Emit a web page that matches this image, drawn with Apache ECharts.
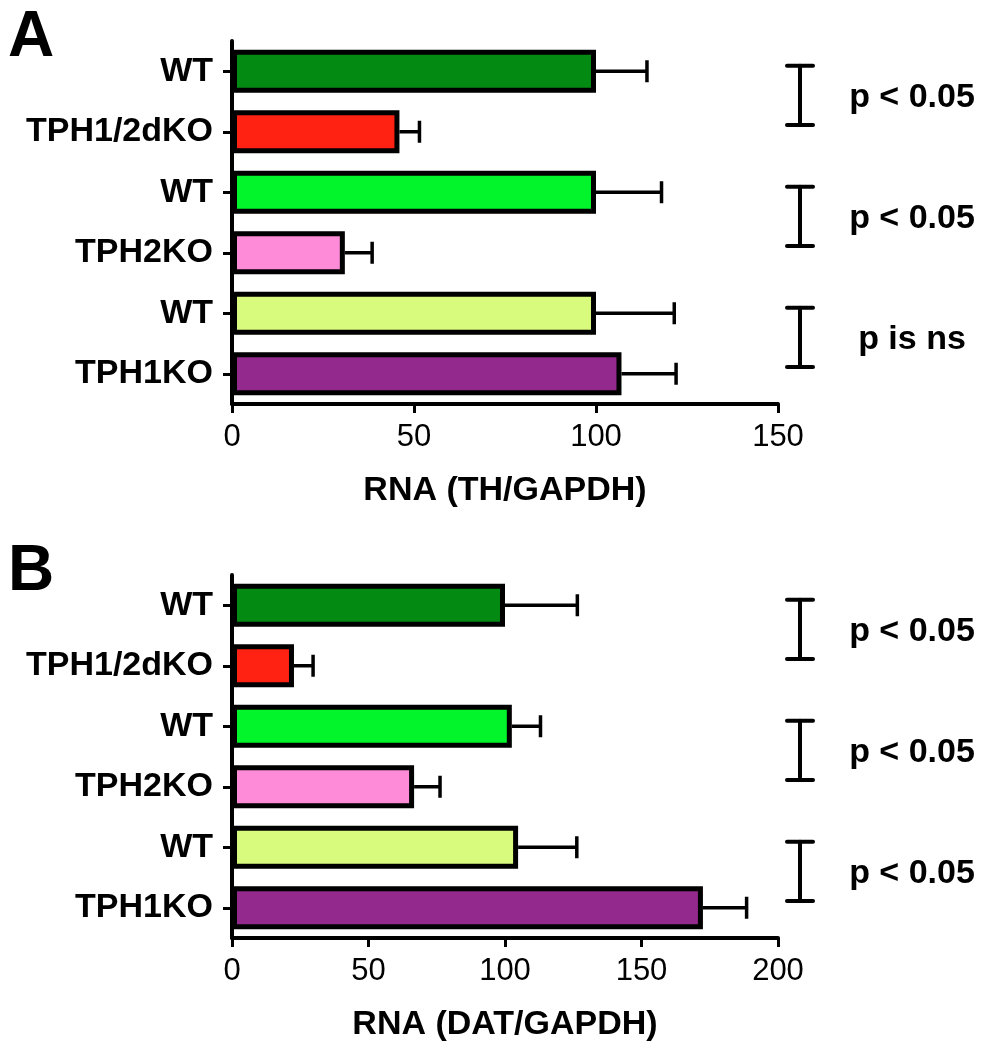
<!DOCTYPE html>
<html>
<head>
<meta charset="utf-8">
<script src="https://cdn.jsdelivr.net/npm/echarts@6/dist/echarts.min.js"></script>
<style>
  html, body { margin: 0; padding: 0; background: #fff; }
  #chart { width: 985px; height: 1050px; }
</style>
</head>
<body>
<div id="chart"></div>
<script>
// groups (same order in both panels, top to bottom)
var categories = ['WT', 'TPH1/2dKO', 'WT', 'TPH2KO', 'WT', 'TPH1KO'];
var barColors = ['#028a13', '#ff2212', '#02f42b', '#fe8bd8', '#d8fb7e', '#93298d'];

// panel A: RNA (TH/GAPDH)
var thMean = [100, 46, 100, 31, 100, 107];
var thErr = [14, 5.5, 18, 7.5, 21.5, 15];
var thTicks = [0, 150, 50]; // min, max, interval

// panel B: RNA (DAT/GAPDH)
var datMean = [100, 22.7, 102.5, 66.7, 104.8, 172.5];
var datErr = [26.5, 7, 10.5, 9.5, 21.5, 16];
var datTicks = [0, 200, 50];

// significance brackets: pairs of group indexes and their text
var pairs = [[0, 1], [2, 3], [4, 5]];
var thSig = ['p < 0.05', 'p < 0.05', 'p is ns'];
var datSig = ['p < 0.05', 'p < 0.05', 'p < 0.05'];

var FONT = '"Liberation Sans", Arial, Helvetica, sans-serif';

var chart = echarts.init(document.getElementById('chart'));

function xAxisFor(gi, ticks, name) {
  return {
    gridIndex: gi, type: 'value', min: ticks[0], max: ticks[1], interval: ticks[2],
    name: name, nameLocation: 'middle', nameGap: 70,
    nameTextStyle: { fontSize: 34, fontWeight: 'bold', color: '#000', fontFamily: FONT },
    axisLine: { show: true, lineStyle: { color: '#000', width: 4 } },
    axisTick: { show: true, length: 9, lineStyle: { color: '#000', width: 3 } },
    axisLabel: { fontSize: 31, color: '#000', margin: 18, fontFamily: FONT },
    splitLine: { show: false }
  };
}

function yAxisFor(gi) {
  return {
    gridIndex: gi, type: 'category', data: categories, inverse: true,
    axisLine: { show: true, lineStyle: { color: '#000', width: 4 } },
    axisTick: { show: true, alignWithLabel: true, length: 9, lineStyle: { color: '#000', width: 3 } },
    axisLabel: { fontSize: 34, fontWeight: 'bold', color: '#000', margin: 19, fontFamily: FONT }
  };
}

// border is drawn inside the bar, so barWidth is the outer size
function barSeries(gi, mean) {
  return {
    type: 'bar', xAxisIndex: gi, yAxisIndex: gi, barWidth: 43,
    data: mean.map(function (v, i) {
      return { value: v, itemStyle: { color: barColors[i], borderColor: '#000', borderWidth: 5 } };
    }),
    z: 3
  };
}

function errSeries(gi, mean, err) {
  return {
    type: 'custom', xAxisIndex: gi, yAxisIndex: gi, z: 2,
    encode: { x: 0, y: 1 },
    data: mean.map(function (v, i) { return [v, i, v + err[i]]; }),
    renderItem: function (params, api) {
      var a = api.coord([api.value(0), api.value(1)]);
      var b = api.coord([api.value(2), api.value(1)]);
      var st = { stroke: '#000', lineWidth: 3.5 };
      return {
        type: 'group', children: [
          { type: 'line', shape: { x1: a[0], y1: a[1], x2: b[0], y2: b[1] }, style: st },
          { type: 'line', shape: { x1: b[0], y1: b[1] - 11, x2: b[0], y2: b[1] + 11 }, style: st }
        ]
      };
    }
  };
}

function sigSeries(gi, ticks, texts) {
  return {
    type: 'custom', xAxisIndex: gi, yAxisIndex: gi, clip: false, silent: true,
    encode: { x: 0, y: 1 },
    data: pairs.map(function (p) { return [ticks[1], p[0], p[1]]; }),
    renderItem: function (params, api) {
      var p0 = api.coord([api.value(0), api.value(1)]);
      var p1 = api.coord([api.value(0), api.value(2)]);
      var band = api.size([0, 1])[1];
      var x = p0[0] + 22;
      var mid = (p0[1] + p1[1]) / 2 - 0.1 * band;
      var y0 = mid - band * 0.49, y1 = mid + band * 0.49;
      var st = { stroke: '#000', lineWidth: 4, lineCap: 'round' };
      return {
        type: 'group', children: [
          { type: 'line', shape: { x1: x, y1: y0, x2: x, y2: y1 }, style: st },
          { type: 'line', shape: { x1: x - 13, y1: y0, x2: x + 13, y2: y0 }, style: st },
          { type: 'line', shape: { x1: x - 13, y1: y1, x2: x + 13, y2: y1 }, style: st },
          { type: 'text', x: x + 112, y: mid + 2, style: {
              text: texts[params.dataIndex], fill: '#000', font: 'bold 34px ' + FONT,
              align: 'center', verticalAlign: 'middle' } }
        ]
      };
    }
  };
}

chart.setOption({
  backgroundColor: '#fff',
  animation: false,
  textStyle: { fontFamily: FONT },
  grid: [
    { left: 232, right: 207, top: 41, height: 363 },
    { left: 232, right: 207, top: 575, height: 363 }
  ],
  xAxis: [xAxisFor(0, thTicks, 'RNA (TH/GAPDH)'), xAxisFor(1, datTicks, 'RNA (DAT/GAPDH)')],
  yAxis: [yAxisFor(0), yAxisFor(1)],
  graphic: [
    { type: 'text', left: 8, top: 6, style: { text: 'A', font: 'bold 64px ' + FONT, fill: '#000' } },
    { type: 'text', left: 8, top: 540, style: { text: 'B', font: 'bold 64px ' + FONT, fill: '#000' } }
  ],
  series: [
    errSeries(0, thMean, thErr), barSeries(0, thMean), sigSeries(0, thTicks, thSig),
    errSeries(1, datMean, datErr), barSeries(1, datMean), sigSeries(1, datTicks, datSig)
  ]
});
</script>
</body>
</html>
